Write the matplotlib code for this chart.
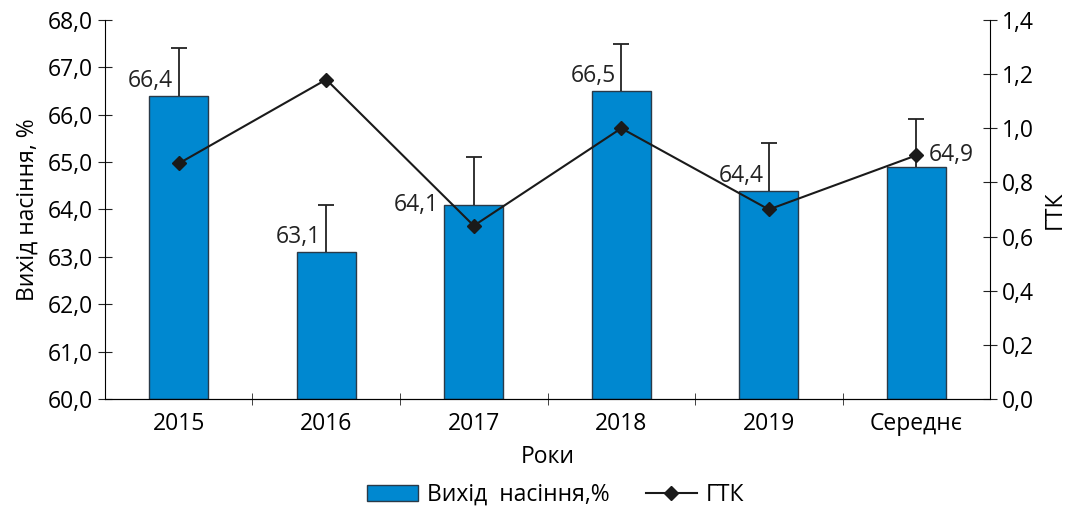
import matplotlib.pyplot as plt
import numpy as np

plt.rcParams['font.family'] = ['Open Sans', 'DejaVu Sans']

categories = ['2015', '2016', '2017', '2018', '2019', 'Середнє']
seed_yield = [66.4, 63.1, 64.1, 66.5, 64.4, 64.9]
yield_err = [1.0, 1.0, 1.0, 1.0, 1.0, 1.0]
gtk = [0.87, 1.18, 0.64, 1.00, 0.70, 0.90]
labels = ['66,4', '63,1', '64,1', '66,5', '64,4', '64,9']

FS = 16.5
fig = plt.figure(figsize=(10.69, 5.07), dpi=100)
ax = fig.add_axes([0.0982, 0.213, 0.828, 0.7476])
x = np.arange(len(categories))

bars = ax.bar(x, [v - 60 for v in seed_yield], bottom=60, width=0.4,
              color='#0088d0', edgecolor='#2a3a48', linewidth=1,
              zorder=2)
# upper-only error bars, cap drawn only at the top
upper = [v + e for v, e in zip(seed_yield, yield_err)]
ax.errorbar(x, seed_yield, yerr=[[0] * len(x), yield_err], fmt='none',
            ecolor='#222222', elinewidth=1.3, capsize=0, zorder=3)
ax.plot(x, upper, ls='none', marker='_', markersize=11, markeredgewidth=1.3,
        color='#222222', zorder=3)

ax.set_ylim(60, 68)
ax.set_xlim(-0.5, 5.5)
ax.set_yticks(np.arange(60, 68.1, 1))
ax.set_yticklabels([f'{v:.1f}'.replace('.', ',') for v in np.arange(60, 68.1, 1)])
ax.set_xticks(x)
ax.set_xticklabels(categories)
ax.set_xticks(np.arange(0.5, 5.5, 1), minor=True)
ax.tick_params(axis='x', which='major', length=0, labelsize=FS, pad=9)
ax.tick_params(axis='x', which='minor', length=8, direction='inout', color='#222222')
ax.tick_params(axis='y', length=10, direction='inout', labelsize=FS, color='#222222')
ax.spines['top'].set_visible(False)
ax.spines['right'].set_visible(False)
ax.set_ylabel('Вихід насіння, %', fontsize=FS, labelpad=6)
ax.set_xlabel('Роки', fontsize=FS, labelpad=7)

ax2 = ax.twinx()
line, = ax2.plot(x, gtk, color='#1a1a1a', linewidth=1.5, marker='D',
                 markersize=7, zorder=4)
ax2.set_ylim(0, 1.4)
ax2.set_yticks(np.arange(0, 1.41, 0.2))
ax2.set_yticklabels([f'{v:.1f}'.replace('.', ',') for v in np.arange(0, 1.41, 0.2)])
ax2.tick_params(axis='y', length=10, direction='inout', labelsize=FS, color='#222222')
ax2.spines['top'].set_visible(False)
ax2.spines['left'].set_visible(False)
ax2.set_ylabel('ГТК', fontsize=FS, labelpad=6)

# data labels: most sit left of the error bar, just above the bar top
for i in [0, 1, 3, 4]:
    ax.annotate(labels[i], (x[i], seed_yield[i]), xytext=(-4, 2),
                textcoords='offset points', ha='right', va='bottom',
                fontsize=FS, color='#222222')
ax.annotate(labels[2], (x[2], seed_yield[2]), xytext=(-25, 0),
            textcoords='offset points', ha='right', va='center',
            fontsize=FS, color='#222222')
ax2.annotate(labels[5], (x[5], gtk[5]), xytext=(9, 0),
             textcoords='offset points', ha='left', va='center',
             fontsize=FS, color='#222222')

fig.legend([bars, line], ['Вихід  насіння,%', 'ГТК'], loc='lower center',
           bbox_to_anchor=(0.52, -0.04), ncol=2, frameon=False, fontsize=FS,
           handlelength=2.2, handletextpad=0.4, columnspacing=1.6)

fig.savefig('out.png', dpi=100)
